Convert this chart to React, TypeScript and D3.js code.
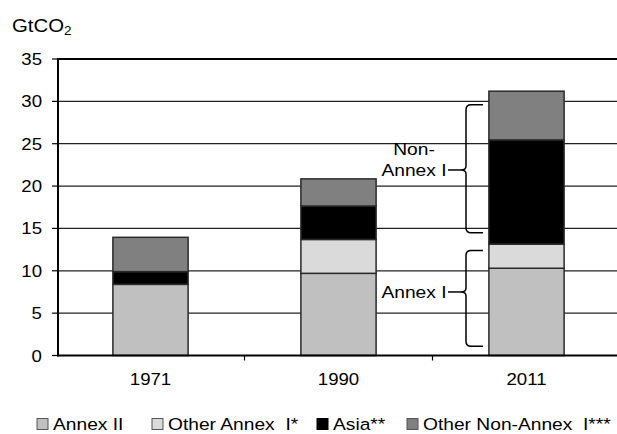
import { useRef, useEffect } from 'react';
import * as d3 from 'd3';

const years = ['1971', '1990', '2011'];
const seriesNames = ['Annex II', 'Other Annex  I*', 'Asia**', 'Other Non-Annex  I***'];
const annexII = [8.4, 9.7, 10.3];
const otherAnnexI = [0, 4.0, 2.85];
const asia = [1.5, 3.95, 12.3];
const otherNonAnnexI = [4.05, 3.2, 5.75];
const yTicks = [0, 5, 10, 15, 20, 25, 30, 35];
const colors = ['#c0c0c0', '#dadada', '#000000', '#808080'];

// brace annotations, in GtCO2
const braces = [
  { lines: ['Non-', 'Annex I'], top: 29.6, bottom: 14.5, tip: 21.9 },
  { lines: ['Annex I'], top: 12.4, bottom: 1.1, tip: 7.5 },
];

const W = 617;
const H = 434;
const FONT = '"Liberation Sans", Arial, sans-serif';
const SX = 1.13; // source fonts are a bit stretched horizontally

function addText(g: any, x: number, y: number, txt: string, size: number, anchor = 'start') {
  return g.append('text')
    .attr('transform', `translate(${x},${y}) scale(${SX},1)`)
    .attr('text-anchor', anchor)
    .style('font-family', FONT)
    .style('font-size', `${size}px`)
    .style('fill', '#000')
    .style('white-space', 'pre')
    .text(txt);
}

function render(svgEl: SVGSVGElement) {
  const svg = d3.select(svgEl);
  svg.selectAll('*').remove();

  const left = 58;
  const top = 59;
  const bottom = 355.5;

  const x = d3.scaleBand().domain(years).range([56.5, 620.5]).paddingInner(0.6).paddingOuter(0.3);
  const y = d3.scaleLinear().domain([0, 35]).range([bottom, top]);

  const rows = years.map((yr, i) => ({
    year: yr,
    values: [annexII[i], otherAnnexI[i], asia[i], otherNonAnnexI[i]],
  }));
  const stacked = d3.stack<any, any, number>()
    .keys([0, 1, 2, 3])
    .value((d, k) => d.values[k])(rows);

  // gridlines
  svg.append('g').selectAll('line')
    .data(yTicks.filter((t) => t > 0))
    .enter()
    .append('line')
    .attr('x1', left).attr('x2', W)
    .attr('y1', (d) => y(d)).attr('y2', (d) => y(d))
    .attr('stroke', (d) => (d === 35 ? '#000' : '#222'))
    .attr('stroke-width', (d) => (d === 35 ? 2 : 1.2));

  // bars
  const layers = svg.append('g').selectAll('g')
    .data(stacked)
    .enter()
    .append('g')
    .attr('fill', (_d, i) => colors[i]);
  layers.selectAll('rect')
    .data((d) => d.filter((s) => s[1] - s[0] > 0))
    .enter()
    .append('rect')
    .attr('x', (d: any) => x(d.data.year)!)
    .attr('width', x.bandwidth())
    .attr('y', (d: any) => y(d[1]))
    .attr('height', (d: any) => y(d[0]) - y(d[1]))
    .attr('stroke', '#2a2a2a')
    .attr('stroke-width', 1.5);

  // y axis
  svg.append('line')
    .attr('x1', left).attr('x2', left)
    .attr('y1', top - 1).attr('y2', bottom + 1)
    .attr('stroke', '#000').attr('stroke-width', 2);
  const yt = svg.append('g');
  yTicks.forEach((t) => {
    yt.append('line')
      .attr('x1', left - 6).attr('x2', left)
      .attr('y1', y(t)).attr('y2', y(t))
      .attr('stroke', '#000').attr('stroke-width', 1.2);
    addText(yt, 42, y(t) + 6, String(t), 16.5, 'end');
  });

  // x axis
  svg.append('line')
    .attr('x1', left - 1).attr('x2', W)
    .attr('y1', bottom).attr('y2', bottom)
    .attr('stroke', '#000').attr('stroke-width', 2);
  years.slice(1).forEach((yr) => {
    const xt = x(yr)! - (x.step() * 0.6) / 2;
    svg.append('line')
      .attr('x1', xt).attr('x2', xt)
      .attr('y1', bottom).attr('y2', bottom + 5)
      .attr('stroke', '#000').attr('stroke-width', 1.2);
  });
  years.forEach((yr) => {
    addText(svg, x(yr)! + x.bandwidth() / 2, 385, yr, 16.5, 'middle');
  });

  // unit label
  const unit = addText(svg, 12, 32, 'GtCO', 18, 'start');
  unit.append('tspan').attr('dy', 3).style('font-size', '12px').text('2');

  // braces
  const bx = 466;
  const tipX = 461;
  const endX = 483;
  braces.forEach((b) => {
    const y0 = y(b.top);
    const y1 = y(b.bottom);
    const yt2 = y(b.tip);
    const p = d3.path();
    p.moveTo(endX, y0);
    p.lineTo(bx + 5, y0);
    p.quadraticCurveTo(bx, y0, bx, y0 + 5);
    p.lineTo(bx, yt2 - 4);
    p.quadraticCurveTo(bx, yt2, tipX, yt2);
    p.quadraticCurveTo(bx, yt2, bx, yt2 + 4);
    p.lineTo(bx, y1 - 5);
    p.quadraticCurveTo(bx, y1, bx + 5, y1);
    p.lineTo(endX, y1);
    svg.append('path')
      .attr('d', p.toString())
      .attr('fill', 'none')
      .attr('stroke', '#000')
      .attr('stroke-width', 1.5);
    svg.append('line')
      .attr('x1', 448).attr('x2', tipX)
      .attr('y1', yt2).attr('y2', yt2)
      .attr('stroke', '#000').attr('stroke-width', 1.5);
    const n = b.lines.length;
    b.lines.forEach((ln, i) => {
      addText(svg, 414, yt2 + 6 - (n - 1 - i) * 21, ln, 17, 'middle');
    });
  });

  // legend
  const legendX = [37, 152, 317, 407];
  const lg = svg.append('g');
  seriesNames.forEach((name, i) => {
    lg.append('rect')
      .attr('x', legendX[i]).attr('y', 418.5)
      .attr('width', 11).attr('height', 11)
      .attr('fill', colors[i])
      .attr('stroke', i === 2 ? '#000' : '#555')
      .attr('stroke-width', 1);
    addText(lg, legendX[i] + 16, 429.5, name, 17, 'start');
  });
}

export default function App() {
  const ref = useRef<SVGSVGElement>(null);

  useEffect(() => {
    if (!ref.current) return;
    render(ref.current);
  }, []);

  return (
    <svg
      ref={ref}
      width={W}
      height={H}
      style={{ position: 'absolute', left: 0, top: 0, background: '#fff' }}
    />
  );
}
